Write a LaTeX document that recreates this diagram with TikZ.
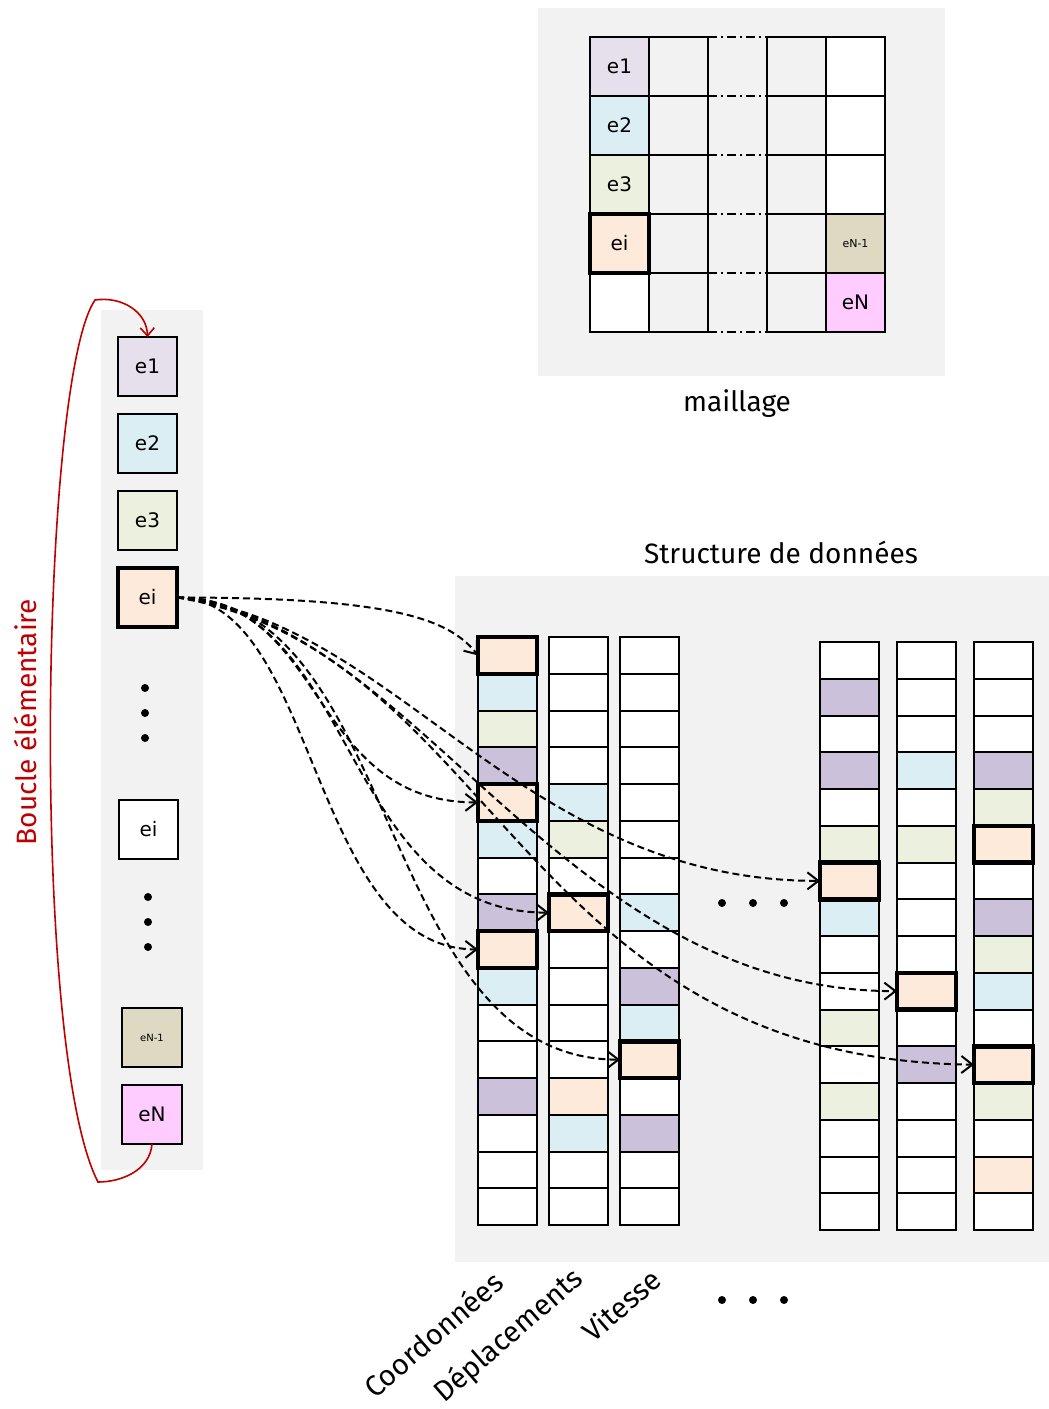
\documentclass[tikz,border=0pt]{standalone}
\usepackage{fontspec}
\setmainfont{DejaVu Sans}
\newfontfamily\handfont{Fira Sans}
\usetikzlibrary{arrows.meta,positioning}

\definecolor{bgGray}{HTML}{F2F2F2}
\definecolor{eLav}{HTML}{E6E0EC}
\definecolor{eBlue}{HTML}{DBEEF4}
\definecolor{eGreen}{HTML}{EBF1DE}
\definecolor{ePeach}{HTML}{FDEADA}
\definecolor{eTan}{HTML}{DDD9C3}
\definecolor{ePink}{HTML}{FFCCFF}
\definecolor{ePurple}{HTML}{CCC1DA}
\definecolor{loopRed}{HTML}{C00000}

\tikzset{
  elem/.style={draw,line width=2pt,minimum width=59pt,minimum height=59pt,
    inner sep=0pt,outer sep=0pt,font=\fontsize{20}{24}\selectfont},
  tiny elem/.style={elem,font=\fontsize{10}{12}\selectfont},
  dcell/.style={draw,line width=2pt,minimum width=59pt,minimum height=36.75pt,
    inner sep=0pt,outer sep=0pt,anchor=north west},
  dcW/.style={fill=white},
  dcB/.style={fill=eBlue},
  dcG/.style={fill=eGreen},
  dcU/.style={fill=ePurple},
  dcP/.style={fill=ePeach},
  dcT/.style={fill=ePeach},
  hl/.style={line width=4.5pt},
  hand/.style={font=\handfont\fontsize{28}{34}\selectfont},
  col label/.style={font=\handfont\fontsize{29}{35}\selectfont,rotate=41},
  link/.style={dash pattern=on 7pt off 4pt,line width=2pt,
    -{Straight Barb[length=11pt,width=17pt,line width=2pt]}},
  dot/.style={circle,fill,inner sep=0pt,minimum size=8pt}
}

\begin{document}
\begin{tikzpicture}[x=1pt,y=-1pt]
\useasboundingbox (0,0) rectangle (1049,1409);

% backgrounds
\fill[bgGray] (538,8) rectangle (945,376);
\fill[bgGray] (101,310) rectangle (203,1170);
\fill[bgGray] (455,576) rectangle (1049,1262);

% maillage
\foreach \r/\fa/\la/\fb in {0/eLav/e1/white,1/eBlue/e2/white,2/eGreen/e3/white,
    3/ePeach/ei/white,4/white//white} {
  \node[elem,fill=\fa] (m\r-1) at (619.5,66.5+59*\r) {\la};
  \node[elem] (m\r-2) [right=0pt of m\r-1] {};
  \node[elem] (m\r-4) [right=59pt of m\r-2] {};
  \node[elem,fill=\fb] (m\r-5) [right=0pt of m\r-4] {};
  \draw[line width=2pt,dash pattern=on 9pt off 4pt on 2pt off 4pt]
    (m\r-2.north east) -- (m\r-4.north west);
}
\node[elem,fill=eTan,font=\fontsize{11}{13}\selectfont] at (m3-5) {eN-1};
\node[elem,fill=ePink] at (m4-5) {eN};
\draw[line width=2pt,dash pattern=on 9pt off 4pt on 2pt off 4pt]
  (m4-2.south east) -- (m4-4.south west);
\draw[hl] (m3-1.north west) rectangle (m3-1.south east);
\node[hand] (maillageLbl) at (737,404) {maillage};

% boucle
\node[elem,fill=eLav] (l1) at (147.5,366.5) {e1};
\node[elem,fill=eBlue] (l2) [below=18pt of l1] {e2};
\node[elem,fill=eGreen] (l3) [below=18pt of l2] {e3};
\node[elem,fill=ePeach,line width=4.5pt] (li) [below=18pt of l3] {ei};
\node[elem,fill=white] (lj) at (148.5,829) {ei};
\node[tiny elem,fill=eTan,minimum width=60pt] (lN1) at (152,1037.5) {eN-1};
\node[elem,fill=ePink,minimum width=60pt] (lN) [below=18pt of lN1] {eN};
\foreach \y in {688,713,738} \node[dot] at (145,\y) {};
\foreach \y in {897,922,947} \node[dot] at (148,\y) {};

\draw[loopRed,line width=1.6pt,-{Straight Barb[length=8pt,width=14pt]}]
  (lN.south) .. controls (150,1170) and (122,1182) .. (98,1182)
  .. controls (30,1050) and (40,380) .. (95,300)
  .. controls (122,296) and (147,312) .. (l1.north);
\node[hand,text=loopRed,rotate=90] (boucleLbl) at (25,722) {Boucle élémentaire};

% structure de donnees
\node[hand] (sdLbl) at (781,552) {Structure de données};
\foreach \col/\xl/\yt/\codes in {
    c1/478/637/{T,B,G,U,T,B,W,U,T,B,W,W,U,W,W,W},
    c2/549/637/{W,W,W,W,B,G,W,T,W,W,W,W,P,B,W,W},
    c3/620/637/{W,W,W,W,W,W,W,B,W,U,B,T,W,U,W,W},
    c4/820/642/{W,U,W,U,W,G,T,B,W,W,G,W,G,W,W,W},
    c5/897/642/{W,W,W,B,W,G,W,W,W,T,W,U,W,W,W,W},
    c6/974/642/{W,W,W,U,G,T,W,U,G,B,W,T,G,W,P,W}}
  \foreach \code [count=\k from 0] in \codes
    \node[dcell,dc\code] (\col-\k) at (\xl,\yt+\k*36.75) {};
\foreach \c in {c1-0,c1-4,c1-8,c2-7,c3-11,c4-6,c5-9,c6-5,c6-11}
  \draw[hl] (\c.north west) rectangle (\c.south east);

\foreach \x in {722,753,784} {
  \node[dot] at (\x,903) {};
  \node[dot] at (\x,1300) {};
}

\node[col label] (coordLbl) at (433,1334) {Coordonnées};
\node[col label] (deplLbl) at (509,1336) {Déplacements};
\node[col label] (vitLbl) at (621,1305) {Vitesse};

% liens
\draw[link] (li.east) .. controls +(210,0) and +(-30,-38) .. (c1-0.west);
\draw[link] (li.east) .. controls +(150,0) and +(-170,0) .. (c1-4.west);
\draw[link] (li.east) .. controls +(140,0) and +(-168,0) .. (c1-8.west);
\draw[link] (li.east) .. controls +(180,0) and +(-210,0) .. (c2-7.west);
\draw[link] (li.east) .. controls +(225,0) and +(-245,0) .. (c3-11.west);
\draw[link] (li.east) .. controls +(220,23) and +(-300,0) .. (c4-6.west);
\draw[link] (li.east) .. controls +(240,23) and +(-337,0) .. (c5-9.west);
\draw[link] (li.east) .. controls +(320,53) and +(-454,-5) .. (c6-11.west);

\end{tikzpicture}
\end{document}
